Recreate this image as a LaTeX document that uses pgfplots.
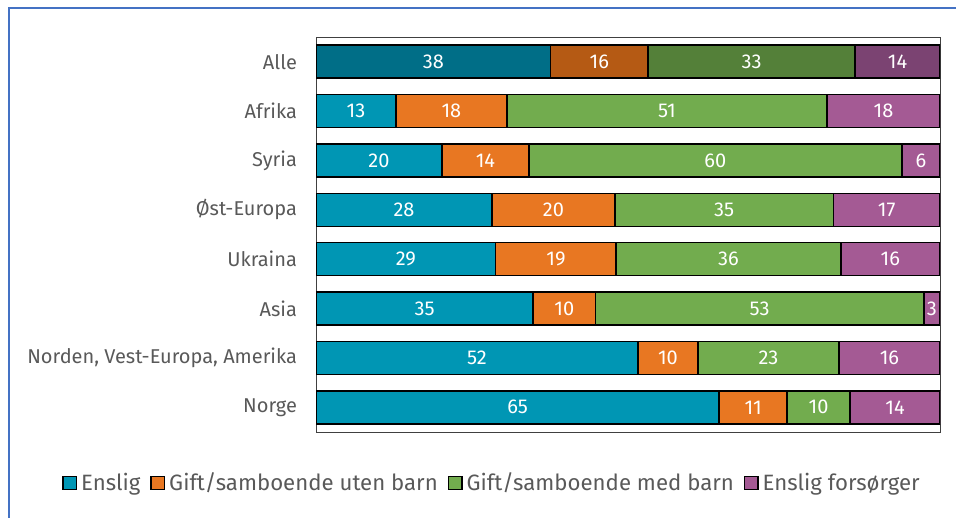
\documentclass[border=0pt]{standalone}
\usepackage{fontspec}
\setmainfont{Fira Sans}
\usepackage{pgfplots}
\usepackage{pgfplotstable}
\pgfplotsset{compat=1.18}

\definecolor{enslig}{HTML}{0096B4}
\definecolor{gift}{HTML}{E87722}
\definecolor{giftb}{HTML}{72AC4E}
\definecolor{fors}{HTML}{A45A94}
\definecolor{ensligD}{HTML}{006E87}
\definecolor{giftD}{HTML}{B55A14}
\definecolor{giftbD}{HTML}{548039}
\definecolor{forsD}{HTML}{7B4372}
\definecolor{txt}{HTML}{595959}
\definecolor{frame}{HTML}{4472C4}

\newcommand\fs{\fontsize{10}{12}\selectfont}
\newcommand\fl{\fontsize{11.1}{13}\selectfont}

% shares in percent, rows from bottom (Norge) up
\pgfplotstableread{
idx enslig gift giftb fors
6 12.8 17.8 51.3 18.1
5 20.2 13.9 59.8 6.1
4 28.2 19.7 35.0 17.1
3 28.8 19.3 36.0 15.9
2 34.8 10.0 52.6 2.6
1 51.6 9.6 22.6 16.2
0 64.6 10.9 10.1 14.4
}\rows
\pgfplotstableread{
idx enslig gift giftb fors
7 37.6 15.6 33.2 13.6
}\alle

\pgfplotsset{
  base/.style={
    xbar stacked,
    scale only axis,
    width=312pt, height=197.5pt,
    at={(314pt,-117.25pt)}, anchor=center,
    xmin=0, xmax=100, ymin=-0.5, ymax=7.5,
    bar width=16.5pt,
    xtick=\empty,
    ytick={0,...,7},
    yticklabels={Norge, {Norden, Vest-Europa, Amerika}, Asia, Ukraina, Øst-Europa, Syria, Afrika, Alle},
    major tick length=0pt,
    yticklabel style={text=txt, font=\fs, xshift=-6pt},
    axis line style={draw=black!75, line width=0.5pt},
    every axis plot/.append style={draw=black, line width=0.75pt},
    /pgf/number format/assume math mode=true,
    point meta=explicit symbolic,
    nodes near coords={\pgfmathprintnumber[fixed,precision=0]{\pgfplotspointmeta}},
    nodes near coords style={anchor=center, text=white, font=\fs},
  },
}

\begin{document}
\begin{tikzpicture}
\useasboundingbox (0,0) rectangle (478pt,-259pt);
\draw[frame, line width=1pt] (4.5pt,-270pt) -- (4.5pt,-4pt) -- (490pt,-4pt);

\begin{axis}[base,
    legend style={at={(0.2837,-0.129)}, anchor=center, draw=none, fill=none,
      font=\fl, text=txt, legend columns=-1,
      /tikz/every even column/.append style={column sep=3pt}},
    legend image code/.code={\draw[#1, draw=black, line width=0.6pt] (0pt,-3.4pt) rectangle (6.8pt,3.4pt);},
  ]
\addplot[fill=enslig] table[x=enslig, y=idx, meta=enslig] {\rows};
\addplot[fill=gift] table[x=gift, y=idx, meta=gift] {\rows};
\addplot[fill=giftb] table[x=giftb, y=idx, meta=giftb] {\rows};
\addplot[fill=fors] table[x=fors, y=idx, meta=fors] {\rows};
\legend{Enslig, Gift/samboende uten barn, Gift/samboende med barn, Enslig forsørger}
\end{axis}

\begin{axis}[base, hide axis]
\addplot[fill=ensligD] table[x=enslig, y=idx, meta=enslig] {\alle};
\addplot[fill=giftD] table[x=gift, y=idx, meta=gift] {\alle};
\addplot[fill=giftbD] table[x=giftb, y=idx, meta=giftb] {\alle};
\addplot[fill=forsD] table[x=fors, y=idx, meta=fors] {\alle};
\end{axis}
\end{tikzpicture}
\end{document}
